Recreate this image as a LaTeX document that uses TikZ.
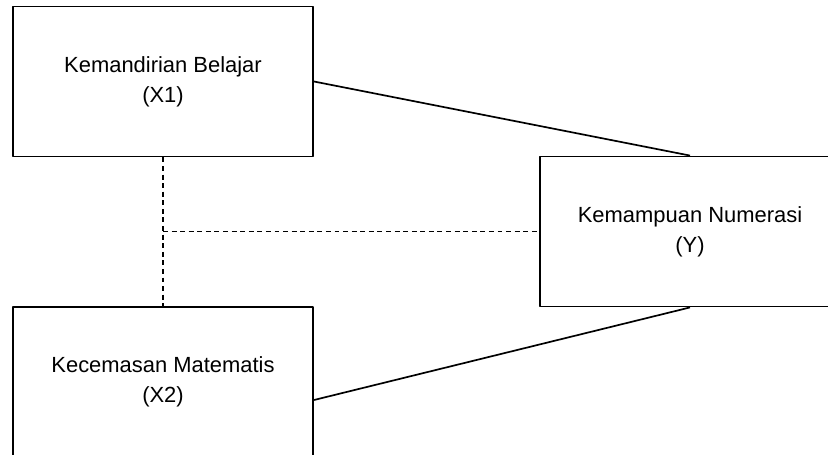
\documentclass[tikz,border=0pt]{standalone}
\usepackage{fontspec}
\setmainfont{Liberation Sans}
\begin{document}
\begin{tikzpicture}[x=0.025cm,y=-0.025cm,join=round,
    varbox/.style={draw,line width=1.3pt,minimum width=7.5cm,minimum height=3.75cm,
      inner sep=0pt,align=center,font=\fontsize{15.6}{21.3}\selectfont},
    link/.style={line width=1.2pt},
    corr/.style={line width=1.1pt,dash pattern=on 3.5pt off 2.6pt}] % Research model
       \useasboundingbox (0,0) rectangle (828,454);
       \clip (0,0) rectangle (828,454);
       \node[varbox] (x1) at (163,81.5) {Kemandirian Belajar\\(X1)};
       \node[varbox] (y) at (690,231.5) {Kemampuan Numerasi\\(Y)};
       \node[varbox] (x2) at (163,382) {Kecemasan Matematis\\(X2)};
        \coordinate (mid) at (x1.south |- y.west);
       \draw[link] (x1.east) -- (y.north);
       \draw[link] ([yshift=-0.45cm]x2.east) -- (y.south);
       \draw[corr] (x1.south) -- (x2.north);
       \draw[corr] (mid) -- (y.west);
   \end{tikzpicture}
\end{document}
